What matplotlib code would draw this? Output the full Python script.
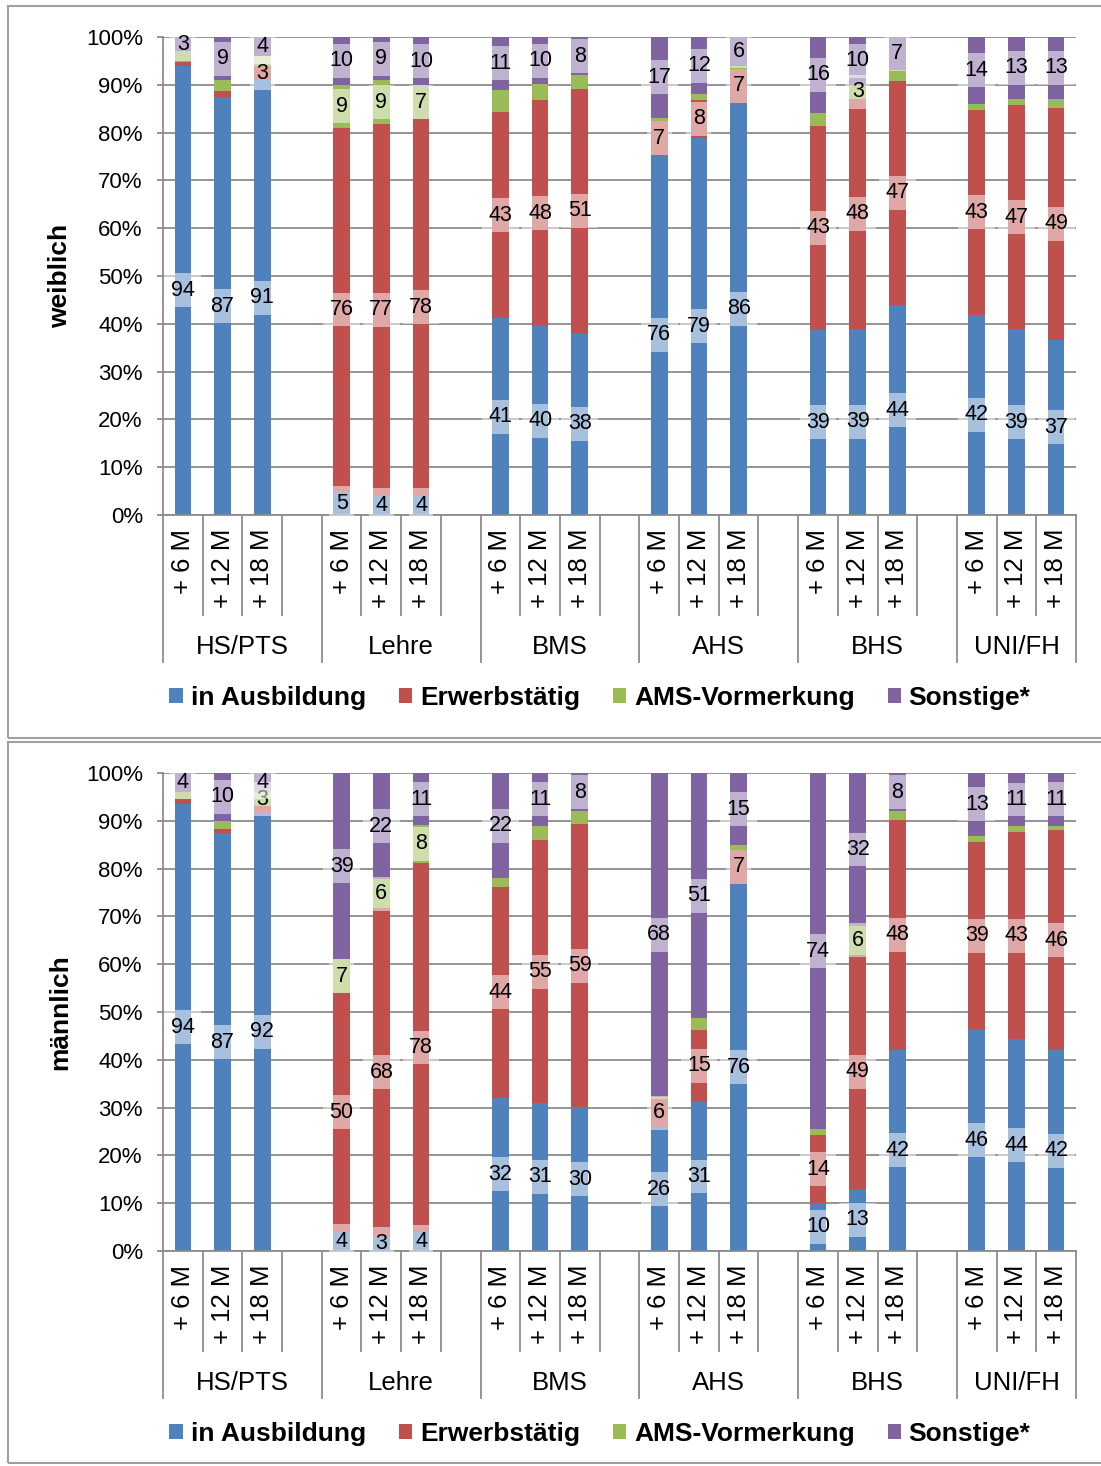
import numpy as np
import matplotlib
matplotlib.use("Agg")
from matplotlib import pyplot as plt
from matplotlib.patches import Rectangle

plt.rcParams['font.family'] = ['Liberation Sans', 'DejaVu Sans']

W, H = 1101, 1466

groups = ['HS/PTS', 'Lehre', 'BMS', 'AHS', 'BHS', 'UNI/FH']
times = ['+ 6 M', '+ 12 M', '+ 18 M']
series = ['in Ausbildung', 'Erwerbstätig', 'AMS-Vormerkung', 'Sonstige*']
colors = ['#4F81BD', '#C0504D', '#9BBB59', '#8064A2']

# weiblich: je Gruppe +6 M, +12 M, +18 M
ausb_w = [94, 87, 91, 5, 4, 4, 41, 40, 38, 76, 79, 86, 39, 39, 44, 42, 39, 37]
erw_w = [0.8, 1.3, 3, 76, 77, 78, 43, 48, 51, 7, 8, 7, 43, 48, 47, 43, 47, 49]
ams_w = [2.2, 2.3, 2.1, 9, 9, 7, 4.7, 3.3, 2.8, 0.8, 1.1, 0.7, 2.7, 3, 2.2, 1.2, 1.3, 1.9]
sonst_w = [3, 9, 4, 10, 9, 10, 11, 10, 8, 17, 12, 6, 16, 10, 7, 14, 13, 13]

# männlich
ausb_m = [94, 87, 92, 4, 3, 4, 32, 31, 30, 26, 31, 76, 10, 13, 42, 46, 44, 42]
erw_m = [1, 1, 1.3, 50, 68, 78, 44, 55, 59, 6, 15, 7, 14, 49, 48, 39, 43, 46]
ams_m = [1.5, 1.6, 3, 7, 6, 8, 1.7, 3.1, 2.7, 0.4, 2.4, 0.9, 1.3, 6, 1.7, 1.3, 1.3, 1.0]
sonst_m = [4, 10, 4, 39, 22, 11, 22, 11, 8, 68, 51, 15, 74, 32, 8, 13, 11, 11]

gridc = '#8c8c8c'
ax_left, ax_w = 163 / W, 913 / W
ax_h = 478 / H


def panel(top_px, data, ylab):
    ax = fig.add_axes([ax_left, 1 - (top_px + 478) / H, ax_w, ax_h])
    vals = np.array(data, dtype=float)
    shares = vals / vals.sum(axis=0) * 100
    # 4 Plaetze je Gruppe (3 Balken + Luecke)
    x = np.array([4 * g + j for g in range(len(groups)) for j in range(len(times))])
    bottom = np.zeros(len(x))
    for k in range(len(series)):
        ax.bar(x, shares[k], bottom=bottom, width=0.42, color=colors[k],
               label=series[k], zorder=2)
        for i in range(len(x)):
            v = vals[k, i]
            if v >= 3 and v == round(v):
                ax.text(x[i], bottom[i] + shares[k, i] / 2, '%d' % v,
                        ha='center', va='center', fontsize=15.5, zorder=4,
                        bbox=dict(boxstyle='square,pad=0.3', fc='white',
                                  ec='none', alpha=0.5))
        bottom += shares[k]

    ax.set_xlim(-0.5, 22.5)
    ax.set_ylim(0, 100)
    ax.set_yticks(np.arange(0, 101, 10))
    ax.set_yticklabels(['%d%%' % t for t in range(0, 101, 10)], fontsize=16)
    ax.yaxis.grid(True, color=gridc, lw=1.3)
    ax.set_axisbelow(True)
    ax.set_xticks([])
    ax.tick_params(axis='y', length=4.5, width=1.3, color=gridc, pad=10)
    for s in ['top', 'right']:
        ax.spines[s].set_visible(False)
    for s in ['left', 'bottom']:
        ax.spines[s].set_color(gridc)
        ax.spines[s].set_linewidth(1.3)

    tr = ax.get_xaxis_transform()
    for b in np.arange(-0.5, 23, 1.0):
        long = (b + 0.5) % 4 == 0 or b == 22.5
        y1 = -147 / 478 if long else -100 / 478
        ax.plot([b, b], [0, y1], color=gridc, lw=1.3, transform=tr, clip_on=False)
    for i in range(len(x)):
        ax.text(x[i], -14 / 478, times[i % 3], rotation=90, ha='center', va='top',
                fontsize=18.5, transform=tr)
    for g, name in enumerate(groups):
        lo = 4 * g - 0.5
        hi = min(lo + 4, 22.5)
        ax.text((lo + hi) / 2, -132 / 478, name, ha='center', va='center',
                fontsize=18.5, transform=tr)

    fig.text(60 / W, 1 - (top_px + 239) / H, ylab, rotation=90, ha='center',
             va='center', fontsize=19, fontweight='bold')
    h, l = ax.get_legend_handles_labels()
    fig.legend(h, l, loc='center', bbox_to_anchor=(600 / W, 1 - (top_px + 661) / H),
               ncol=4, frameon=False, prop={'size': 19, 'weight': 'bold'},
               handlelength=0.5, handleheight=0.5, handletextpad=0.3,
               columnspacing=1.25)
    return ax


fig = plt.figure(figsize=(W / 100, H / 100), dpi=100)

fig.add_artist(Rectangle((8 / W, 1 - 738 / H), 1110 / W, 732 / H, fill=False,
                         ec='#a0a0a0', lw=1.5, transform=fig.transFigure))
fig.add_artist(Rectangle((8 / W, 1 - 1463 / H), 1110 / W, 721 / H, fill=False,
                         ec='#a0a0a0', lw=1.5, transform=fig.transFigure))

panel(37, [ausb_w, erw_w, ams_w, sonst_w], 'weiblich')
panel(773, [ausb_m, erw_m, ams_m, sonst_m], 'männlich')

fig.savefig('out.png', dpi=100)
